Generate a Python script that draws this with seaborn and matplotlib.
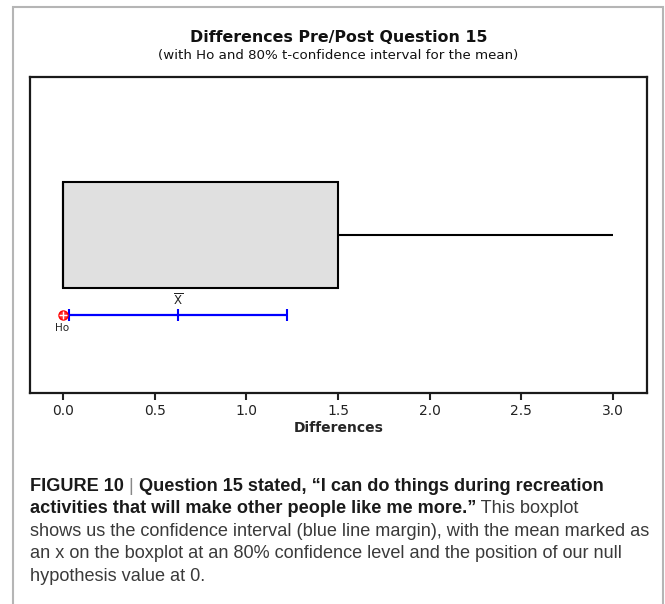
import numpy as np
import pandas as pd
import seaborn as sns
import matplotlib.pyplot as plt
from matplotlib.patches import Rectangle

# five-number summary: min, Q1, median, Q3, max
box_summary = [0.0, 0.0, 0.0, 1.5, 3.0]
# mean and 80% t-confidence interval
mean_diff = 0.625
ci_bounds = [0.03, 1.22]
h0_value = 0.0
x_ticks = [0.0, 0.5, 1.0, 1.5, 2.0, 2.5, 3.0]

title = 'Differences Pre/Post Question 15'
subtitle = '(with Ho and 80% t-confidence interval for the mean)'

W, H = 665, 604

sns.set_theme(style='white')
plt.rcParams['font.family'] = ['DejaVu Sans']

fig = plt.figure(figsize=(W / 100, H / 100), dpi=100)
ax = fig.add_axes([30 / W, 1 - 393 / H, 617 / W, 316 / H])

df = pd.DataFrame({'Differences': box_summary})
sns.boxplot(data=df, x='Differences', orient='h', width=0.8, color='#e0e0e0',
            saturation=1, linecolor='black', linewidth=1.5, showcaps=False,
            fliersize=0, ax=ax)

# confidence interval for the mean
ci_y = 0.6
ax.errorbar([mean_diff], [ci_y],
            xerr=[[mean_diff - ci_bounds[0]], [ci_bounds[1] - mean_diff]],
            color='#0000ff', lw=1.6, capsize=4, capthick=1.5, fmt='none')
ax.plot([mean_diff], [ci_y], marker='|', ms=8, mew=1.5, color='#0000ff')
ax.annotate(r'$\overline{\mathrm{X}}$', (mean_diff, ci_y), xytext=(0, 5),
            textcoords='offset points', ha='center', va='bottom', fontsize=8.5,
            color='#222222')

# null hypothesis marker
ax.plot([h0_value], [ci_y], marker='o', ms=6.5, mfc='#ff3030', mec='#ff0000', mew=1)
ax.plot([h0_value], [ci_y], marker='+', ms=6, mew=1, color='white')
ax.annotate('Ho', (h0_value, ci_y), xytext=(-1, -6), textcoords='offset points',
            ha='center', va='top', fontsize=7.5, color='#222222')

ax.set_ylim(1.19, -1.19)
ax.set_xlim(-0.18, 3.185)
ax.set_xticks(x_ticks)
ax.set_xticklabels([f'{v:.1f}' for v in x_ticks])
ax.set_yticks([])
ax.set_ylabel('')
ax.tick_params(axis='x', bottom=True, direction='out', length=5, width=1.5,
               labelsize=10, pad=3, colors='#222222')
ax.set_xlabel('Differences', fontsize=10, fontweight='bold', labelpad=2)
for s in ax.spines.values():
    s.set_visible(True)
    s.set_color('#1a1a1a')
    s.set_linewidth(1.6)

fig.text(0.5 * (30 + 647) / W, 1 - 37 / H, title, ha='center', va='center',
         fontsize=11.4, fontweight='bold', color='#111111')
fig.text(0.5 * (30 + 647) / W, 1 - 55 / H, subtitle, ha='center', va='center',
         fontsize=9.6, color='#111111')

# outer frame of the figure panel
fig.add_artist(Rectangle((13 / W, -0.05), (663 - 13) / W, 1.05 - 7 / H,
                         transform=fig.transFigure, fill=False,
                         edgecolor='#b5b5b5', lw=1.5))

# caption
cap_font = ['Liberation Sans', 'DejaVu Sans']
cap_size = 13.1
renderer = fig.canvas.get_renderer()
caption_lines = [
    [('FIGURE 10 ', 'bold', '#1a1a1a'), ('|', 'normal', '#888888'),
     (' Question 15 stated, \u201cI can do things during recreation', 'bold', '#1a1a1a')],
    [('activities that will make other people like me more.\u201d', 'bold', '#1a1a1a'),
     (' This boxplot', 'normal', '#3a3a3a')],
    [('shows us the confidence interval (blue line margin), with the mean marked as',
      'normal', '#3a3a3a')],
    [('an x on the boxplot at an 80% confidence level and the position of our null',
      'normal', '#3a3a3a')],
    [('hypothesis value at 0.', 'normal', '#3a3a3a')],
]
baseline = 491
for runs in caption_lines:
    x = 30
    for txt, weight, color in runs:
        t = fig.text(x / W, 1 - baseline / H, txt, fontsize=cap_size,
                     fontweight=weight, color=color, family=cap_font,
                     va='baseline', ha='left')
        x += t.get_window_extent(renderer).width
    baseline += 22.4

fig.savefig('out.png', dpi=100)
